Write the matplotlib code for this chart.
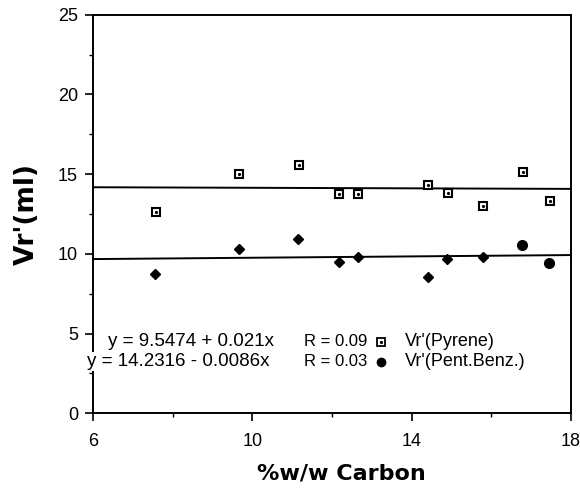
import matplotlib
matplotlib.use("Agg")
import matplotlib.pyplot as plt
import numpy as np

# Data
carbon_pyrene = [7.58, 9.67, 11.16, 12.18, 12.66, 14.42, 14.91, 15.80, 16.79, 17.48]
vr_pyrene = [12.61, 15.01, 15.58, 13.76, 13.76, 14.30, 13.84, 13.00, 15.16, 13.32]

carbon_pent = [7.55, 9.66, 11.14, 12.17, 12.66, 14.41, 14.90, 15.79, 16.78, 17.45]
vr_pent = [8.74, 10.31, 10.92, 9.47, 9.83, 8.57, 9.66, 9.79, 10.56, 9.45]

# regression lines (as printed in the legend text)
fit_upper = (14.2316, -0.0086)
fit_lower = (9.5474, 0.021)

legend_line1 = ["y = 9.5474 + 0.021x", "R = 0.09", "Vr'(Pyrene)"]
legend_line2 = ["y = 14.2316 - 0.0086x", "R = 0.03", "Vr'(Pent.Benz.)"]

x_ticks = [6, 10, 14, 18]
y_ticks = [0, 5, 10, 15, 20, 25]

plt.rcParams['font.family'] = ['Liberation Sans', 'DejaVu Sans']

fig = plt.figure(figsize=(5.8, 4.92), dpi=100)
ax = fig.add_axes([0.1609, 0.160, 0.823, 0.810])

xs = np.array([6, 18])
ax.plot(xs, fit_upper[0] + fit_upper[1] * xs, color='black', lw=1.4, zorder=2)
ax.plot(xs, fit_lower[0] + fit_lower[1] * xs, color='black', lw=1.4, zorder=2)

ax.plot(carbon_pyrene, vr_pyrene, linestyle='none', marker='s', markersize=6,
        mfc='white', mec='black', mew=1.5, zorder=4)
ax.plot(carbon_pyrene, vr_pyrene, linestyle='none', marker='o', markersize=1.3,
        mfc='black', mec='black', zorder=5)

pent_markers = ['D'] * 8 + ['o'] * 2
pent_sizes = [5] * 8 + [7] * 2
for xv, yv, mk, ms in zip(carbon_pent, vr_pent, pent_markers, pent_sizes):
    ax.plot([xv], [yv], linestyle='none', marker=mk, markersize=ms,
            mfc='black', mec='black', zorder=4)

ax.set_xlim(6, 18)
ax.set_ylim(0, 25)
ax.set_xticks(x_ticks)
ax.set_yticks(y_ticks)
ax.set_xticks([8, 12, 16], minor=True)
ax.set_yticks([2.5, 7.5, 12.5, 17.5, 22.5], minor=True)
ax.tick_params(axis='both', which='major', direction='out', length=6, width=1.2,
               labelsize=13, pad=5)
ax.tick_params(axis='both', which='minor', direction='out', length=3, width=1.0)
ax.tick_params(axis='x', pad=8)
for s in ax.spines.values():
    s.set_linewidth(1.4)

ax.set_xlabel("%w/w Carbon", fontsize=16, fontweight='bold',
              family=['DejaVu Sans'], labelpad=8)
ax.xaxis.set_label_coords(0.519, -0.125)
ax.set_ylabel("Vr'(ml)", fontsize=19, fontweight='bold',
              family=['DejaVu Sans'], labelpad=13)

fs_eq = 13.5
fs_r = 12
fs_vr = 13
ax.text(6.377, 4.49, legend_line1[0], fontsize=fs_eq, va='center', ha='left', zorder=6)
ax.text(11.3, 4.49, legend_line1[1], fontsize=fs_r, va='center', ha='left', zorder=6)
ax.text(13.84, 4.49, legend_line1[2], fontsize=fs_vr, va='center', ha='left', zorder=6)
ax.plot([13.24], [4.49], marker='s', markersize=6, mfc='white', mec='black', mew=1.3,
        linestyle='none', clip_on=False, zorder=6)
ax.plot([13.24], [4.49], marker='o', markersize=1.3, mfc='black', mec='black',
        linestyle='none', clip_on=False, zorder=7)

ax.text(5.834, 3.24, legend_line2[0], fontsize=fs_eq, va='center', ha='left', zorder=6,
        bbox=dict(facecolor='white', edgecolor='none', pad=0.5))
ax.text(11.3, 3.24, legend_line2[1], fontsize=fs_r, va='center', ha='left', zorder=6)
ax.text(13.84, 3.24, legend_line2[2], fontsize=fs_vr, va='center', ha='left', zorder=6)
ax.plot([13.24], [3.24], marker='o', markersize=6, mfc='black', mec='black',
        linestyle='none', clip_on=False, zorder=6)

fig.savefig("out.png", dpi=100)
